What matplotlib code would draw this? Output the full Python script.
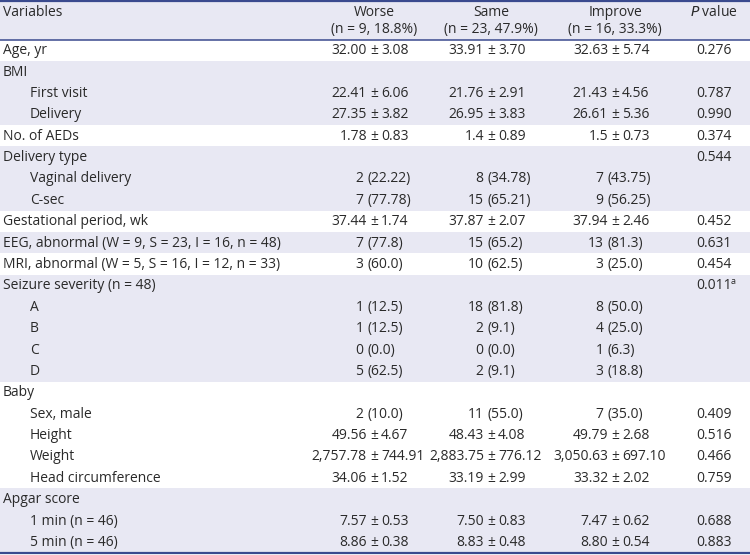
import matplotlib
matplotlib.use("Agg")
import matplotlib.pyplot as plt

plt.rcParams['font.family'] = ['Open Sans', 'DejaVu Sans']

# table content
variables = ["Age, yr", "BMI", "First visit", "Delivery", "No. of AEDs", "Delivery type",
             "Vaginal delivery", "C-sec", "Gestational period, wk",
             "EEG, abnormal (W = 9, S = 23, I = 16, n = 48)",
             "MRI, abnormal (W = 5, S = 16, I = 12, n = 33)", "Seizure severity (n = 48)",
             "A", "B", "C", "D", "Baby", "Sex, male", "Height", "Weight",
             "Head circumference", "Apgar score", "1 min (n = 46)", "5 min (n = 46)"]
indented = [0, 0, 1, 1, 0, 0, 1, 1, 0, 0, 0, 0, 1, 1, 1, 1, 0, 1, 1, 1, 1, 0, 1, 1]
worse = ["32.00 ± 3.08", "", "22.41 ± 6.06", "27.35 ± 3.82", "1.78 ± 0.83", "",
         "2 (22.22)", "7 (77.78)", "37.44 ± 1.74", "7 (77.8)", "3 (60.0)", "",
         "1 (12.5)", "1 (12.5)", "0 (0.0)", "5 (62.5)", "", "2 (10.0)", "49.56 ± 4.67",
         "2,757.78 ± 744.91", "34.06 ± 1.52", "", "7.57 ± 0.53", "8.86 ± 0.38"]
same = ["33.91 ± 3.70", "", "21.76 ± 2.91", "26.95 ± 3.83", "1.4 ± 0.89", "",
        "8 (34.78)", "15 (65.21)", "37.87 ± 2.07", "15 (65.2)", "10 (62.5)", "",
        "18 (81.8)", "2 (9.1)", "0 (0.0)", "2 (9.1)", "", "11 (55.0)", "48.43 ± 4.08",
        "2,883.75 ± 776.12", "33.19 ± 2.99", "", "7.50 ± 0.83", "8.83 ± 0.48"]
improve = ["32.63 ± 5.74", "", "21.43 ± 4.56", "26.61 ± 5.36", "1.5 ± 0.73", "",
           "7 (43.75)", "9 (56.25)", "37.94 ± 2.46", "13 (81.3)", "3 (25.0)", "",
           "8 (50.0)", "4 (25.0)", "1 (6.3)", "3 (18.8)", "", "7 (35.0)", "49.79 ± 2.68",
           "3,050.63 ± 697.10", "33.32 ± 2.02", "", "7.47 ± 0.62", "8.80 ± 0.54"]
pvals = ["0.276", "", "0.787", "0.990", "0.374", "0.544", "", "", "0.452", "0.631",
         "0.454", "0.011", "", "", "", "", "", "0.409", "0.516", "0.466", "0.759", "",
         "0.688", "0.883"]
group_names = ["Worse", "Same", "Improve"]
group_n = ["(n = 9, 18.8%)", "(n = 23, 47.9%)", "(n = 16, 33.3%)"]
# row groups (number of rows) used for the alternating bands
groups = [1, 3, 1, 3, 1, 1, 1, 5, 5, 3]

W, H = 750, 555
fig = plt.figure(figsize=(7.5, 5.55), dpi=100)
ax = fig.add_axes([0, 0, 1, 1])
ax.set_xlim(0, W)
ax.set_ylim(H, 0)
ax.axis('off')

shade = '#e8e8f3'
line_c = '#3a4a8e'
txt_c = '#2a2a2a'
fs = 10

top, head_bot, row_h = 1.0, 39.5, 21.38
col_x = [374, 491, 615]
p_x = 714
paren_x = [367, 487, 607]

# header band
ax.axhspan(top, head_bot, color=shade, lw=0)
start = 0
for i, g in enumerate(groups):
    if i % 2 == 1:
        ax.axhspan(head_bot + start * row_h, head_bot + (start + g) * row_h, color=shade, lw=0)
    start += g
bottom = head_bot + len(variables) * row_h
ax.axhline(top, color=line_c, lw=1.6)
ax.axhline(head_bot, color=line_c, lw=1.1)
ax.axhline(bottom, color=line_c, lw=1.6)

# header text
ax.text(3, 12, "Variables", ha='left', va='center', fontsize=fs, color=txt_c)
for x, nm, n in zip(col_x, group_names, group_n):
    ax.text(x, 12, nm, ha='center', va='center', fontsize=fs, color=txt_c)
    ax.text(x, 29, n, ha='center', va='center', fontsize=fs, color=txt_c)
ax.text(p_x, 12, r"$\it{P}$ value", ha='center', va='center', fontsize=fs, color=txt_c)


def cell(x, px, y, s):
    if not s:
        return
    if " ± " in s:
        a, b = s.split(" ± ")
        ax.text(x - 7, y, a, ha='right', va='center', fontsize=fs, color=txt_c)
        ax.text(x, y, "±", ha='center', va='center', fontsize=fs, color=txt_c)
        ax.text(x + 7, y, b, ha='left', va='center', fontsize=fs, color=txt_c)
    else:
        a, b = s.split(" (")
        ax.text(px - 3.5, y, a, ha='right', va='center', fontsize=fs, color=txt_c)
        ax.text(px, y, "(" + b, ha='left', va='center', fontsize=fs, color=txt_c)


for i, v in enumerate(variables):
    y = head_bot + (i + 0.5) * row_h + 0.5
    ax.text(3 + 27 * indented[i], y, v, ha='left', va='center', fontsize=fs, color=txt_c)
    for j, col in enumerate([worse, same, improve]):
        cell(col_x[j], paren_x[j], y, col[i])
    if pvals[i]:
        ax.text(p_x, y, pvals[i], ha='center', va='center', fontsize=fs, color=txt_c)
        if pvals[i] == "0.011":
            ax.text(p_x + 17, y - 4, "a", ha='left', va='center', fontsize=6.5, color=txt_c)

fig.savefig("out.png", dpi=100)
